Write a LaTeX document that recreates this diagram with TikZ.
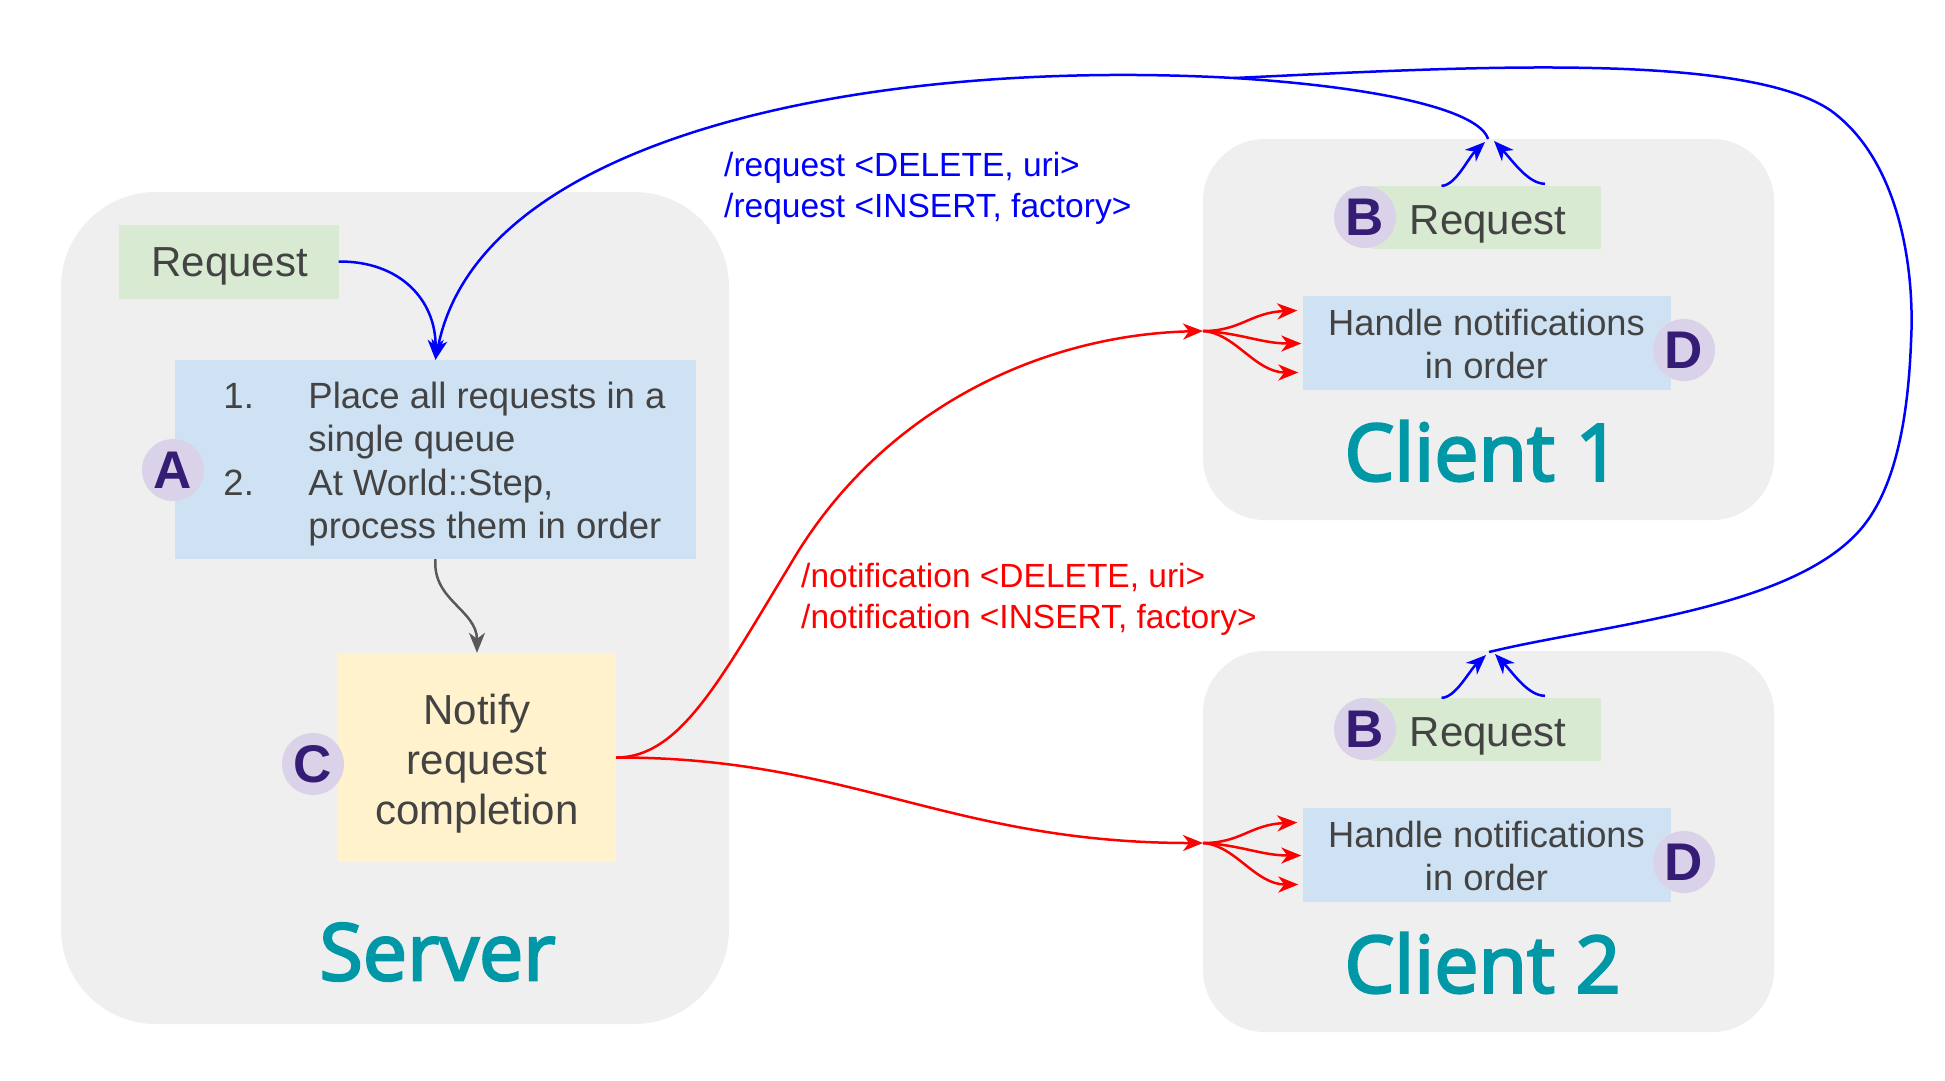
\documentclass[tikz,border=0pt]{standalone}
\usepackage{fontspec}
\setmainfont{Liberation Sans}
\newfontfamily\titlefont{Open Sans}[FakeBold=3]
\usetikzlibrary{arrows.meta,calc}
\definecolor{panelgray}{HTML}{EFEFEF}
\definecolor{reqgreen}{HTML}{D9EAD3}
\definecolor{stepblue}{HTML}{CFE2F3}
\definecolor{notifyyellow}{HTML}{FFF2CC}
\definecolor{badgefill}{HTML}{D9D2E9}
\definecolor{badgetext}{HTML}{351C75}
\definecolor{txtgray}{HTML}{434343}
\definecolor{titleteal}{HTML}{0097A7}
\definecolor{arrowgray}{HTML}{595959}
\definecolor{pureblue}{HTML}{0000FF}
\definecolor{purered}{HTML}{FF0000}
\tikzset{
  panel/.style={fill=panelgray, rounded corners=62pt, inner sep=0pt, minimum width=571pt, minimum height=381pt},
  greenbox/.style={fill=reqgreen, inner sep=0pt},
  bluebox/.style={fill=stepblue, inner sep=0pt},
  yellowbox/.style={fill=notifyyellow, inner sep=0pt},
  bigtext/.style={inner sep=0pt, text=txtgray, align=center, font=\fontsize{42}{50}\selectfont},
  midtext/.style={inner sep=0pt, text=txtgray, align=center, font=\fontsize{36.3}{43.5}\selectfont},
  listtext/.style={inner sep=0pt, text=txtgray, font=\fontsize{36.5}{43.4}\selectfont},
  badge/.style={circle, fill=badgefill, minimum size=62pt, inner sep=0pt, text=badgetext, font=\bfseries\fontsize{53}{60}\selectfont},
  titletext/.style={inner sep=0pt, text=titleteal, font=\titlefont\fontsize{79}{84}\selectfont},
  reqlabel/.style={inner sep=0pt, anchor=west, align=left, text=pureblue, font=\fontsize{33.5}{41}\selectfont},
  notlabel/.style={inner sep=0pt, anchor=west, align=left, text=purered, font=\fontsize{33.5}{41}\selectfont},
  tip/.style={-{Stealth[length=20pt,width=16pt,inset=6pt]}},
  blueline/.style={draw=pureblue, line width=2.5pt},
  barrow/.style={blueline, tip},
  rarrow/.style={draw=purered, line width=2.5pt, tip},
  garrow/.style={draw=arrowgray, line width=2.5pt, tip}
}
\begin{document}
\begin{tikzpicture}[x=1pt,y=-1pt]
\useasboundingbox (0,0) rectangle (1945,1080);
\fill[white] (0,0) rectangle (1945,1080);

% panels
\node[panel, rounded corners=95pt, minimum width=668pt, minimum height=832pt] (server) at (395,608) {};
\node[panel] (client1) at (1488.5,329.5) {};
\node[panel] (client2) at (1488.5,841.5) {};

% server content
\node[greenbox, minimum width=220pt, minimum height=74pt] (sreq) at (228.5,261.5) {};
\node[bigtext] (sreqtext) at (229.6,266.5) {Request};
\node[bluebox, minimum width=521pt, minimum height=199pt] (A) at (435.5,459.5) {};
\node[listtext] (Atext) at (444.5,465) {\begin{tabular}{@{}p{85pt}@{}l@{}}1.&Place all requests in a\\&single queue\\2.&At World::Step,\\&process them in order\end{tabular}};
\node[yellowbox, minimum width=278pt, minimum height=209pt] (C) at (477,757.5) {};
\node[bigtext] (Ctext) at (477,763.5) {Notify\\request\\completion};
\node[badge] (bA) at (173,470) {A};
\node[badge] (bC) at (313,764) {C};
\node[titletext] (serverlabel) at (437.5,952) {Server};

% client 1
\node[greenbox, minimum width=229pt, minimum height=63pt] (R1) at (1486.5,217.5) {};
\node[bigtext] (R1text) at (1488,224.5) {Request};
\node[bluebox, minimum width=368pt, minimum height=94pt] (D1) at (1486.5,342.5) {};
\node[midtext] (D1text) at (1486.5,344) {Handle notifications\\in order};
\node[badge] (bB1) at (1365,217) {B};
\node[badge] (bD1) at (1684,350) {D};
\node[titletext] (c1label) at (1482.5,451) {Client 1};

% client 2
\node[greenbox, minimum width=229pt, minimum height=63pt] (R2) at (1486.5,729.5) {};
\node[bigtext] (R2text) at (1488,736.5) {Request};
\node[bluebox, minimum width=368pt, minimum height=94pt] (D2) at (1486.5,854.5) {};
\node[midtext] (D2text) at (1486.5,856) {Handle notifications\\in order};
\node[badge] (bB2) at (1365,729) {B};
\node[badge] (bD2) at (1684,862) {D};
\node[titletext] (c2label) at (1482.5,963) {Client 2};

% labels
\node[reqlabel] (reqtext) at (724,188.5) {/request <DELETE, uri>\\/request <INSERT, factory>};
\node[notlabel] (nottext) at (801,599.5) {/notification <DELETE, uri>\\/notification <INSERT, factory>};

% junctions
\coordinate (j1) at (1488,139);
\coordinate (j2) at (1489,652);
\coordinate (m) at (1234,78);
\coordinate (j3) at (1203,331);
\coordinate (j4) at (1203,843);

% blue request connectors
\draw[barrow] (sreq.east) .. controls (400,261) and (436,300) .. (A.north);
\draw[blueline] (j1) .. controls (1480,112) and (1390,88) .. (m);
\draw[barrow] (m) .. controls (870,58) and (480,135) .. (A.north);
\draw[blueline] (j2) .. controls (1600,625) and (1790,610) .. (1860,530)
   .. controls (1895,490) and (1908,420) .. (1911,342)
   .. controls (1915,270) and (1900,160) .. (1830,110)
   .. controls (1740,50) and (1450,68) .. (m);
\draw[barrow] ($(R1.north)+(-45,0)$) .. controls +(14,0) and +(-17,16) .. ($(j1)+(-3,3)$);
\draw[barrow] ($(R1.north)+(58.5,-2)$) .. controls +(-17,0) and +(18,19) .. ($(j1)+(6,2)$);
\draw[barrow] ($(R2.north)+(-45,0)$) .. controls +(14,0) and +(-17,16) .. ($(j2)+(-3,3)$);
\draw[barrow] ($(R2.north)+(58.5,-2)$) .. controls +(-17,0) and +(18,19) .. ($(j2)+(6,2)$);

% gray connector
\draw[garrow] (A.south) .. controls (432,600) and (477,610) .. (C.north);

% red notification connectors
\draw[rarrow] (C.east) .. controls (680,757.5) and (720,680) .. (790,565)
   .. controls (880,410) and (1040,335) .. (j3);
\draw[rarrow] (C.east) .. controls (850,757) and (950,843) .. (j4);
\draw[rarrow] (j3) .. controls +(38,0) and +(-47,2) .. ($(D1.west)+(-5,-32)$);
\draw[rarrow] (j3) .. controls +(38,2) and +(-40,0) .. ($(D1.west)+(-1,1)$);
\draw[rarrow] (j3) .. controls +(32,2) and +(-43,0) .. ($(D1.west)+(-4,30)$);
\draw[rarrow] (j4) .. controls +(38,0) and +(-47,2) .. ($(D2.west)+(-5,-32)$);
\draw[rarrow] (j4) .. controls +(38,2) and +(-40,0) .. ($(D2.west)+(-1,1)$);
\draw[rarrow] (j4) .. controls +(32,2) and +(-43,0) .. ($(D2.west)+(-4,30)$);
\end{tikzpicture}
\end{document}
